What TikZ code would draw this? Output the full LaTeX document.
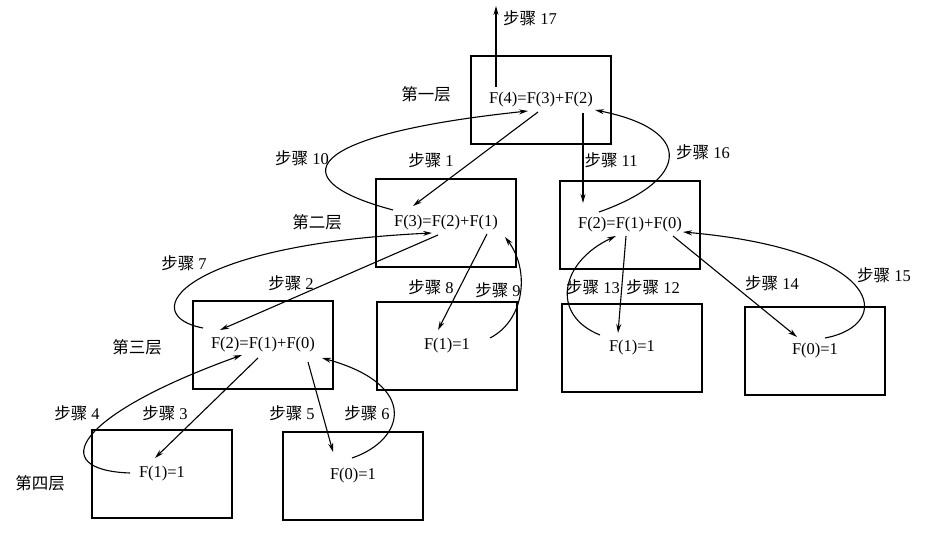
\documentclass[tikz,border=0pt]{standalone}
\usepackage{fontspec}
\setmainfont{Liberation Serif}
\newfontfamily\cjk{Noto Sans CJK SC}
\usetikzlibrary{arrows.meta,calc}

\newcommand{\bz}[1]{{\cjk 步骤} #1}

\begin{document}
\begin{tikzpicture}[x=1pt, y=-1pt, >={Stealth[length=9pt,width=5pt]},
  font=\fontsize{16.5}{18}\selectfont,
  box/.style={draw, line width=1.4pt, minimum width=140pt, minimum height=88pt, inner sep=0pt},
  link/.style={->, line width=1.1pt},
  tag/.style={inner sep=0pt}]

\useasboundingbox (0,0) rectangle (952,534);

% --- Layer 1 ---
\node[box] (f4) at (541,100) {F(4)=F(3)+F(2)};
\node[tag] (lay1) at (426,94) {\cjk 第一层};

% --- Layer 2 ---
\node[box] (f3) at (446,223) {F(3)=F(2)+F(1)};
\node[box] (f2r) at (630,225) {F(2)=F(1)+F(0)};
\node[tag] (lay2) at (317,222) {\cjk 第二层};

% --- Layer 3 ---
\node[box] (f2l) at (263,345) {F(2)=F(1)+F(0)};
\node[box] (f1a) at (447,346) {F(1)=1};
\node[box] (f1b) at (632,348) {F(1)=1};
\node[box] (f0b) at (815,351) {F(0)=1};
\node[tag] (lay3) at (137,347) {\cjk 第三层};

% --- Layer 4 ---
\node[box] (f1c) at (162,474) {F(1)=1};
\node[box] (f0a) at (353,476) {F(0)=1};
\node[tag] (lay4) at (40,483) {\cjk 第四层};

% --- Calls and returns, left branch ---
\coordinate (top) at (496,6);
\draw[link] ($(f4)+(-45,-13)$) -- (top);
\draw[link] ($(f4)+(-3,12)$) -- ($(f3)+(-33,-17)$);
\draw[link] ($(f3)+(-53,-13)$) .. controls +(-113,-30) and +(-228,24) .. ($(f4)+(-13,11)$);
\draw[link] ($(f3)+(-8,12)$) -- ($(f2l)+(-43,-15)$);
\draw[link] ($(f2l)+(-60,-17)$) .. controls +(-68,-13) and +(-252,12) .. ($(f3)+(-14,10)$);
\draw[link] ($(f3)+(41,11)$) -- ($(f1a)+(-9,-16)$);
\draw[link] ($(f1a)+(43,-8)$) .. controls +(35,-18) and +(25,33) .. ($(f3)+(59,14)$);
\draw[link] ($(f2l)+(-5,13)$) -- ($(f1c)+(-7,-16)$);
\draw[link] ($(f1c)+(-32,-1)$) .. controls +(-85,-3) and +(-167,60) .. ($(f2l)+(-21,10)$);
\draw[link] ($(f2l)+(45,17)$) -- ($(f0a)+(-20,-24)$);
\draw[link] ($(f0a)+(-1,-18)$) .. controls +(53,-18) and +(98,27) .. ($(f2l)+(59,13)$);

% --- Calls and returns, right branch ---
\draw[link] ($(f4)+(42,13)$) -- ($(f2r)+(-47,-22)$);
\draw[link] ($(f2r)+(-31,-13)$) .. controls +(91,-32) and +(100,20) .. ($(f4)+(54,10)$);
\draw[link] ($(f2r)+(-4,11)$) -- ($(f1b)+(-14,-15)$);
\draw[link] ($(f1b)+(-32,-13)$) .. controls +(-50,-20) and +(-56,26) .. ($(f2r)+(-14,11)$);
\draw[link] ($(f2r)+(43,11)$) -- ($(f0b)+(-18,-14)$);
\draw[link] ($(f0b)+(10,-13)$) .. controls +(70,-13) and +(202,18) .. ($(f2r)+(53,7)$);

% --- Step labels ---
\node[tag] (s1) at (431,160) {\bz{1}};
\node[tag] (s2) at (291,283) {\bz{2}};
\node[tag] (s3) at (165,413) {\bz{3}};
\node[tag] (s4) at (77,413) {\bz{4}};
\node[tag] (s5) at (292,413) {\bz{5}};
\node[tag] (s6) at (367,413) {\bz{6}};
\node[tag] (s7) at (184,263) {\bz{7}};
\node[tag] (s8) at (431,287) {\bz{8}};
\node[tag] (s9) at (498,290) {\bz{9}};
\node[tag] (s10) at (302,158) {\bz{10}};
\node[tag] (s11) at (611,160) {\bz{11}};
\node[tag] (s12) at (653,287) {\bz{12}};
\node[tag] (s13) at (593,287) {\bz{13}};
\node[tag] (s14) at (772,283) {\bz{14}};
\node[tag] (s15) at (884,275) {\bz{15}};
\node[tag] (s16) at (703,152) {\bz{16}};
\node[tag] (s17) at (530,18) {\bz{17}};

\end{tikzpicture}
\end{document}
